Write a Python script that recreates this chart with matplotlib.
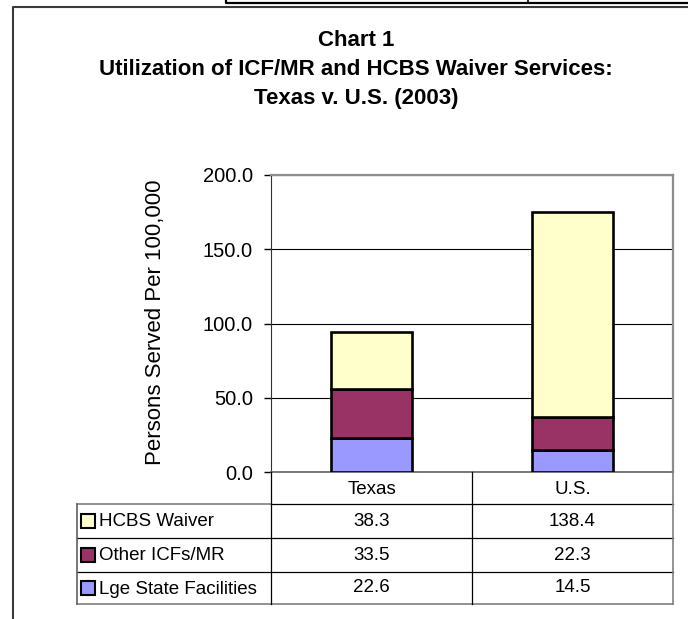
import matplotlib.pyplot as plt
from matplotlib.patches import Rectangle
from matplotlib.lines import Line2D

plt.rcParams['font.family'] = ['Liberation Sans', 'DejaVu Sans']

# data
categories = ['Texas', 'U.S.']
lge_state = [22.6, 14.5]
other_icf = [33.5, 22.3]
hcbs_waiver = [38.3, 138.4]

# table rows, top to bottom (same as the legend in the data table)
row_labels = ['HCBS Waiver', 'Other ICFs/MR', 'Lge State Facilities']
row_values = [hcbs_waiver, other_icf, lge_state]
row_colors = ['#FFFFCC', '#993366', '#9999FF']

title_lines = ['Chart 1',
               'Utilization of ICF/MR and HCBS Waiver Services:',
               'Texas v. U.S. (2003)']

W, H = 688, 619


def fx(px):
    return px / W


def fy(py):
    return 1 - py / H


fig = plt.figure(figsize=(W / 100, H / 100), dpi=100)

# outer chart frame and the bit of a page table above it
fig.add_artist(Line2D([fx(12.5), fx(12.5), fx(W)], [0, fy(7), fy(7)],
                      transform=fig.transFigure, color='#3a3a3a', lw=1.5))
fig.add_artist(Line2D([fx(226), fx(226), fx(W)], [1, fy(3), fy(3)],
                      transform=fig.transFigure, color='black', lw=1.6))
fig.add_artist(Line2D([fx(528), fx(528)], [1, fy(3)],
                      transform=fig.transFigure, color='black', lw=1.2))

# title
for line, base in zip(title_lines, [46, 75, 104]):
    fig.text(fx(356), fy(base), line, ha='center', va='baseline',
             fontsize=16, fontweight='bold')

# plot area
ax = fig.add_axes([fx(271), fy(472), fx(673) - fx(271), (472 - 175) / H])
x = [0, 1]
bottom2 = [a + b for a, b in zip(lge_state, other_icf)]
ax.bar(x, lge_state, width=0.4, color=row_colors[2], edgecolor='black', lw=1.9, zorder=3)
ax.bar(x, other_icf, width=0.4, bottom=lge_state, color=row_colors[1],
       edgecolor='black', lw=1.9, zorder=3)
ax.bar(x, hcbs_waiver, width=0.4, bottom=bottom2, color=row_colors[0],
       edgecolor='black', lw=1.9, zorder=3)

ax.set_xlim(-0.5, 1.5)
ax.set_ylim(0, 200)
yt = [0, 50, 100, 150, 200]
ax.set_yticks(yt)
ax.set_yticklabels([f'{v:.1f}' for v in yt], fontsize=14.5)
ax.tick_params(axis='y', length=5, width=1, pad=8, direction='out')
ax.set_xticks([])
ax.yaxis.grid(True, color='black', lw=0.8)
ax.set_axisbelow(True)
ax.spines['left'].set_color('#333333')
ax.spines['bottom'].set_color('#6e6e6e')
ax.spines['bottom'].set_linewidth(1.3)
for s in ['top', 'right']:
    ax.spines[s].set_color('#8c8c8c')
    ax.spines[s].set_linewidth(1.6)

fig.text(fx(155), fy(322), 'Persons Served Per 100,000', rotation=90,
         ha='center', va='center', fontsize=16)

# data table below the plot
rows_y = [472, 504, 538, 572, 604]
col_x = [77, 271, 472, 673]
tf = fig.transFigure


def hline(y, x0, x1, color='black', lw=0.9):
    fig.add_artist(Line2D([fx(x0), fx(x1)], [fy(y), fy(y)], transform=tf, color=color, lw=lw))


def vline(xp, y0, y1, color='black', lw=0.9):
    fig.add_artist(Line2D([fx(xp), fx(xp)], [fy(y0), fy(y1)], transform=tf, color=color, lw=lw))


hline(rows_y[1], col_x[0], col_x[1], color='#808080', lw=1.2)
hline(rows_y[1], col_x[1], col_x[3])
hline(rows_y[2], col_x[0], col_x[3])
hline(rows_y[3], col_x[0], col_x[3])
hline(rows_y[4], col_x[0], col_x[3], color='#808080', lw=1.2)
vline(col_x[0], rows_y[1], rows_y[4], color='#606060', lw=1.2)
vline(col_x[1], rows_y[0], rows_y[4])
vline(col_x[2], rows_y[0], rows_y[4])
vline(col_x[3], rows_y[0], rows_y[4], color='#808080', lw=1.2)

centers = [(col_x[1] + col_x[2]) / 2, (col_x[2] + col_x[3]) / 2]
for cx, cat in zip(centers, categories):
    fig.text(fx(cx), fy((rows_y[0] + rows_y[1]) / 2 + 1), cat,
             ha='center', va='center', fontsize=13.5)

for i, (lab, vals, col) in enumerate(zip(row_labels, row_values, row_colors)):
    cy = (rows_y[i + 1] + rows_y[i + 2]) / 2
    fig.add_artist(Rectangle((fx(81), fy(cy + 7)), 14 / W, 14 / H, transform=tf,
                             facecolor=col, edgecolor='black', lw=1.5))
    fig.text(fx(99), fy(cy + 1), lab, ha='left', va='center', fontsize=13.5)
    for cx, v in zip(centers, vals):
        fig.text(fx(cx), fy(cy), f'{v:.1f}', ha='center', va='center', fontsize=13.5)

fig.savefig('out.png', dpi=100)
